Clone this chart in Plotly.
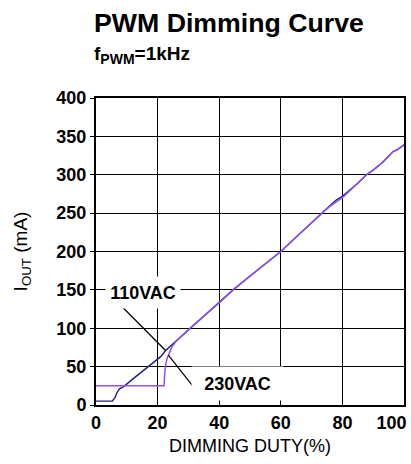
import plotly.graph_objects as go

# Data
duty_110 = [0, 5.3, 6.2, 6.8, 7.6, 9, 12, 15, 18, 21, 22.6, 24, 25.8, 28, 30.5,
            35, 40, 44.5, 50, 55, 60, 65, 70, 73.4, 76, 78, 80, 85, 87.8, 90,
            93, 96.4, 98, 100]
iout_110 = [5, 5, 10, 16, 21, 24, 34, 44, 53, 63, 71, 76, 83, 91, 100,
            116, 133, 150, 168, 184, 200, 219, 238, 250, 260, 267, 272, 289, 300, 306,
            316, 330, 333, 339]

duty_230 = [0, 22.1, 22.3, 22.6, 23.1, 24, 24.7, 26, 27.5, 29, 30.5,
            35, 40, 44.5, 50, 55, 60, 65, 70, 73.4, 76, 78, 80, 85, 87.8, 90,
            93, 96.4, 98, 100]
iout_230 = [25, 25, 40, 52, 61, 70, 76, 83, 89, 95, 100,
            116, 133, 150, 168, 184, 200, 219, 238, 250, 259, 265, 270, 289, 300, 306,
            316, 330, 333, 339]

x_ticks = [0, 20, 40, 60, 80, 100]
x_ticktext = ["0", "20", "40", "60", "80", "100"]
y_ticks = [0, 50, 100, 150, 200, 250, 300, 350, 400]

# label anchors (data units) and leader-line tails
label_110 = (15.2, 146.5)
label_230 = (45.8, 28)
tail_110 = (8.0, 130)
tail_230 = (32.4, 19.6)

FONT = "Liberation Sans, Arial, sans-serif"
BLUE = "#1c1c8c"
PURPLE = "#9050f0"

fig = go.Figure()
fig.add_trace(go.Scatter(x=duty_110, y=iout_110, mode="lines", name="110VAC",
                         line=dict(color=BLUE, width=1.4)))
fig.add_trace(go.Scatter(x=duty_230, y=iout_230, mode="lines", name="230VAC",
                         line=dict(color=PURPLE, width=1.5)))

# leader lines from labels to curves
fig.add_shape(type="line", xref="x", yref="y",
              x0=tail_110[0], y0=tail_110[1], x1=duty_110[10], y1=iout_110[10],
              line=dict(color="black", width=1.2), layer="above")
fig.add_shape(type="line", xref="x", yref="y",
              x0=tail_230[0], y0=tail_230[1], x1=duty_230[4] + 0.4, y1=iout_230[4] + 4,
              line=dict(color="black", width=1.2), layer="above")

# curve labels with white boxes
fig.add_annotation(x=label_110[0], y=label_110[1], text="<b>110VAC</b>", showarrow=False,
                   font=dict(family=FONT, size=18, color="black"),
                   bgcolor="white", width=74, height=31, borderpad=0)
fig.add_annotation(x=label_230[0], y=label_230[1], text="<b>230VAC</b>", showarrow=False,
                   font=dict(family=FONT, size=18, color="black"),
                   bgcolor="white", width=91, height=33, borderpad=0)

# titles
fig.add_annotation(xref="paper", yref="paper", x=-0.012, y=1.245, xanchor="left", yanchor="middle",
                   text="<b>PWM Dimming Curve</b>", showarrow=False,
                   font=dict(family=FONT, size=26.7, color="black"))
fig.add_annotation(xref="paper", yref="paper", x=-0.012, y=1.14, xanchor="left", yanchor="middle",
                   text="<b>f<sub><span style='font-size:14px'>PWM</span></sub>=1kHz</b>",
                   showarrow=False,
                   font=dict(family=FONT, size=19, color="black"))

fig.update_layout(
    width=411, height=464,
    margin=dict(l=96, r=7, t=98, b=59),
    paper_bgcolor="white", plot_bgcolor="white",
    showlegend=False,
    font=dict(family=FONT, color="black"),
)
fig.update_xaxes(
    range=[0, 100], tickvals=x_ticks,
    ticktext=[f"<b>{t}</b>" + ("&nbsp;" * 5 if t == "100" else "") for t in x_ticktext],
    ticklabeloverflow="allow",
    tickfont=dict(size=18), ticks="inside", ticklen=5, tickcolor="black", tickwidth=1.3,
    showgrid=True, gridcolor="black", gridwidth=1.3, automargin=False,
    showline=True, linecolor="black", linewidth=2, mirror=True, zeroline=False,
    title=dict(text="DIMMING DUTY(%)", font=dict(size=18), standoff=8),
)
fig.update_yaxes(
    range=[0, 400], tickvals=y_ticks, ticktext=[f"<b>{v}</b>" for v in y_ticks],
    tickfont=dict(size=18), ticks="outside", ticklen=4, tickcolor="black", tickwidth=1.3,
    showgrid=True, gridcolor="black", gridwidth=1.3, automargin=False,
    showline=True, linecolor="black", linewidth=2, mirror=True, zeroline=False,
    title=dict(text="I<sub>OUT</sub> (mA)", font=dict(size=19), standoff=24),
)

fig.write_html("out.html", config={"displayModeBar": False},
               post_script="document.body.style.margin='0';document.body.style.overflow='hidden';")
